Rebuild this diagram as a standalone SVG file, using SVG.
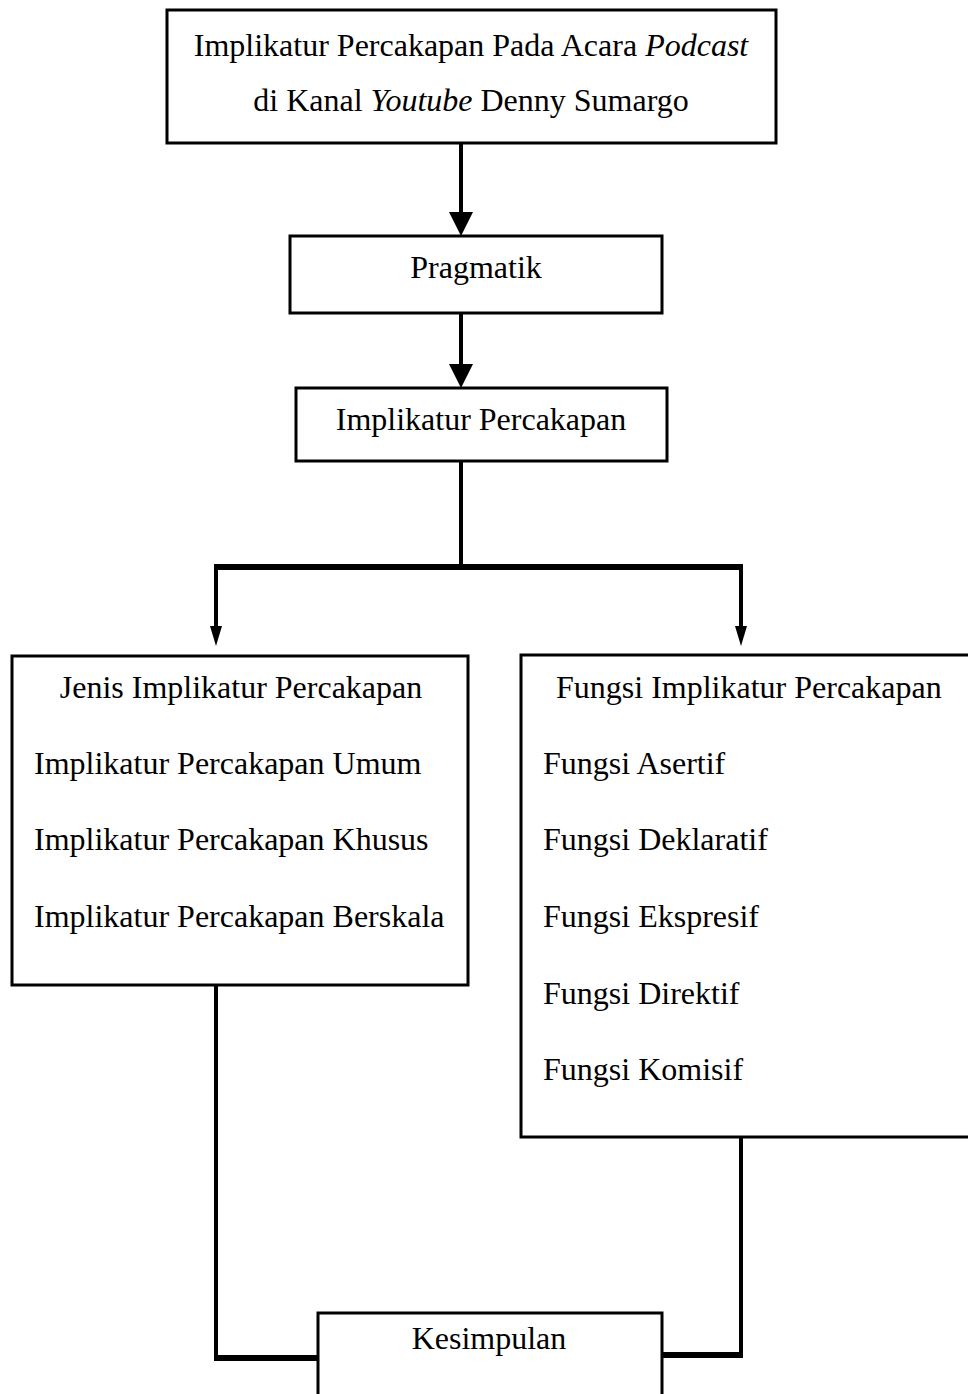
<svg xmlns="http://www.w3.org/2000/svg" width="968" height="1394" viewBox="0 0 968 1394">
<defs>
<style>
.box{fill:#fff;stroke:#000;stroke-width:3}
.t{font-family:"Liberation Serif","Times New Roman",serif;font-size:32px;fill:#000}
.c{text-anchor:middle}
.ln{fill:none;stroke:#000;stroke-width:4}
.thick{fill:none;stroke:#000;stroke-width:6}
.head{fill:#000}
</style>
</defs>
<rect width="968" height="1394" fill="#fff"/>
<g id="connectors">
<line class="ln" x1="461" y1="143" x2="461" y2="214"/>
<path class="head" d="M449,212 L473,212 L461,236 Z"/>
<line class="ln" x1="461" y1="313" x2="461" y2="366"/>
<path class="head" d="M449,364 L473,364 L461,388 Z"/>
<line class="ln" x1="461" y1="461" x2="461" y2="567"/>
<line class="thick" x1="214" y1="567" x2="743" y2="567"/>
<line class="ln" x1="216" y1="565" x2="216" y2="628"/>
<path class="head" d="M210,626 L222,626 L216,646 Z"/>
<line class="ln" x1="741" y1="565" x2="741" y2="628"/>
<path class="head" d="M735,626 L747,626 L741,646 Z"/>
<line class="ln" x1="216" y1="985" x2="216" y2="1357"/>
<line class="thick" x1="214" y1="1358" x2="318" y2="1358"/>
<line class="ln" x1="741" y1="1137" x2="741" y2="1355"/>
<line class="thick" x1="662" y1="1355" x2="743" y2="1355"/>
</g>
<g id="n1">
<rect class="box" x="167" y="10" width="609" height="133"/>
<text class="t c" x="471" y="56">Implikatur Percakapan Pada Acara <tspan font-style="italic">Podcast</tspan></text>
<text class="t c" x="471" y="111">di Kanal <tspan font-style="italic">Youtube</tspan> Denny Sumargo</text>
</g>
<g id="n2">
<rect class="box" x="290" y="236" width="372" height="77"/>
<text class="t c" x="476" y="278">Pragmatik</text>
</g>
<g id="n3">
<rect class="box" x="296" y="388" width="371" height="73"/>
<text class="t c" x="481" y="430">Implikatur Percakapan</text>
</g>
<g id="n4">
<rect class="box" x="12" y="656" width="456" height="329"/>
<text class="t c" x="241" y="698">Jenis Implikatur Percakapan</text>
<text class="t" x="34" y="774">Implikatur Percakapan Umum</text>
<text class="t" x="34" y="850">Implikatur Percakapan Khusus</text>
<text class="t" x="34" y="927">Implikatur Percakapan Berskala</text>
</g>
<g id="n5">
<rect class="box" x="521" y="655" width="460" height="482"/>
<text class="t" x="556" y="698">Fungsi Implikatur Percakapan</text>
<text class="t" x="543" y="774">Fungsi Asertif</text>
<text class="t" x="543" y="850">Fungsi Deklaratif</text>
<text class="t" x="543" y="927">Fungsi Ekspresif</text>
<text class="t" x="543" y="1004">Fungsi Direktif</text>
<text class="t" x="543" y="1080">Fungsi Komisif</text>
</g>
<g id="n6">
<rect class="box" x="318" y="1313" width="344" height="100"/>
<text class="t c" x="489" y="1349">Kesimpulan</text>
</g>
</svg>
